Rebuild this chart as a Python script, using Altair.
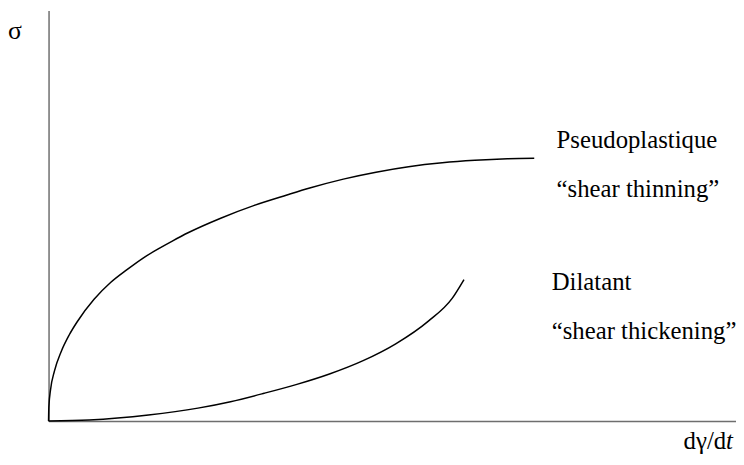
import altair as alt
import pandas as pd

# Curves (arbitrary units: x and y from 0 to 100 across the axes)
pseudo_x = [0, 0.043, 0.288, 0.863, 1.83, 3.02, 4.22, 6.62, 9.02, 11.41, 13.81, 16.22, 18.13, 20.29,
            25.04, 29.93, 34.68, 37.99, 42.88, 47.63, 52.37, 57.27, 62.01, 66.76, 70.65]
pseudo_y = [0, 3.4, 7.6, 12.2, 16.87, 21.0, 24.3, 29.64, 33.73, 36.87, 39.76, 42.17, 43.95, 45.85,
            49.40, 52.53, 55.06, 56.75, 58.92, 60.60, 61.93, 62.89, 63.49, 63.86, 63.98]

dil_x = [0, 5.90, 14.53, 21.73, 26.47, 31.37, 36.12, 40.86, 45.76, 50.50, 55.25, 58.71, 60.43]
dil_y = [0, 0.24, 1.45, 3.13, 4.70, 6.75, 8.92, 11.45, 14.70, 18.80, 24.34, 29.88, 34.46]

label_text = ["Pseudoplastique", "\u201cshear thinning\u201d", "Dilatant", "\u201cshear thickening\u201d"]
label_x = [73.9, 73.9, 73.2, 73.2]
label_y = [66.5, 54.5, 31.8, 20.0]

y_title = "\u03c3"
x_title_main = "d\u03b3/d"
x_title_italic = "t"

curves = pd.DataFrame(
    {"x": pseudo_x + dil_x,
     "y": pseudo_y + dil_y,
     "curve": ["Pseudoplastique"] * len(pseudo_x) + ["Dilatant"] * len(dil_x),
     "order": list(range(len(pseudo_x))) + list(range(len(dil_x)))}
)
labels = pd.DataFrame({"text": label_text, "x": label_x, "y": label_y})

FONT = "Liberation Serif, Times New Roman, serif"

xscale = alt.Scale(domain=[0, 100], nice=False, zero=False)
yscale = alt.Scale(domain=[0, 100], nice=False, zero=False)
xaxis = alt.Axis(title=None, labels=False, ticks=False, grid=False,
                 domainColor="#6e6e6e", domainWidth=1.5)
yaxis = alt.Axis(title=None, labels=False, ticks=False, grid=False,
                 domainColor="#6e6e6e", domainWidth=1.5)

lines = alt.Chart(curves).mark_line(color="black", strokeWidth=1.5, interpolate="monotone").encode(
    x=alt.X("x:Q", scale=xscale, axis=xaxis),
    y=alt.Y("y:Q", scale=yscale, axis=yaxis),
    detail="curve:N",
    order="order:Q",
)

text = alt.Chart(labels).mark_text(font=FONT, fontSize=25, align="left", baseline="alphabetic", color="black").encode(
    x=alt.X("x:Q", scale=xscale),
    y=alt.Y("y:Q", scale=yscale),
    text="text:N",
)

sigma = alt.Chart(pd.DataFrame({"t": [y_title]})).mark_text(
    font=FONT, fontSize=26, align="center", baseline="alphabetic", color="black"
).encode(x=alt.value(-34), y=alt.value(29), text="t:N")

xt1 = alt.Chart(pd.DataFrame({"t": [x_title_main]})).mark_text(
    font=FONT, fontSize=25, align="right", baseline="alphabetic", color="black"
).encode(x=alt.value(685), y=alt.value(443), text="t:N")

xt2 = alt.Chart(pd.DataFrame({"t": [x_title_italic]})).mark_text(
    font=FONT, fontSize=25, fontStyle="italic", align="left", baseline="alphabetic", color="black"
).encode(x=alt.value(685), y=alt.value(443), text="t:N")

chart = alt.layer(lines, text, sigma, xt1, xt2).properties(
    width=695, height=415,
    autosize=alt.AutoSizeParams(type="none"),
    padding={"left": 41, "top": 0, "right": 0, "bottom": 42},
).configure_view(stroke=None)

chart.save("out.html", embed_options={"renderer": "svg", "actions": False})
